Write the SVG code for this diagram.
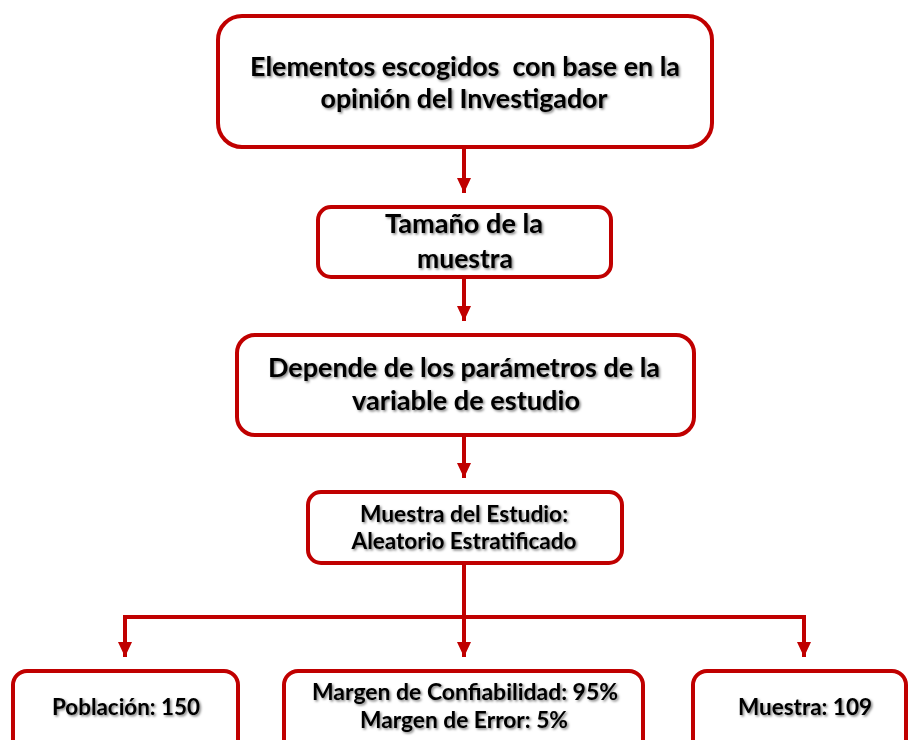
<svg xmlns="http://www.w3.org/2000/svg" width="908" height="740" viewBox="0 0 908 740">
<defs>
<style>
.box{fill:#fff;stroke:#C00000;stroke-width:4}
.t{font-family:Lato,"Open Sans","Liberation Sans",sans-serif;font-weight:bold;fill:#000;text-anchor:middle;filter:url(#sh)}
.l{font-size:26px}
.s{font-size:22px}
.c{fill:none;stroke:#C00000;stroke-width:4}
</style>
<filter id="sh" x="-10%" y="-30%" width="120%" height="160%">
<feDropShadow dx="1.5" dy="1.5" stdDeviation="1.2" flood-color="#000" flood-opacity="0.5"/>
</filter>
<marker id="ah" markerUnits="userSpaceOnUse" markerWidth="16" markerHeight="14" refX="15" refY="7" orient="auto">
<path d="M0,0 L15,7 L0,14 Z" fill="#C00000"/>
</marker>
</defs>
<rect width="908" height="740" fill="#fff"/>
<g id="connectors">
<path class="c" d="M464,149 V193" marker-end="url(#ah)"/>
<path class="c" d="M464,279 V321" marker-end="url(#ah)"/>
<path class="c" d="M464,437 V478" marker-end="url(#ah)"/>
<path class="c" d="M464,565 V617"/>
<path class="c" d="M123,617 H806"/>
<path class="c" d="M125,615 V657" marker-end="url(#ah)"/>
<path class="c" d="M464,617 V657" marker-end="url(#ah)"/>
<path class="c" d="M804,615 V657" marker-end="url(#ah)"/>
</g>
<g id="n1">
<rect class="box" x="218" y="16" width="494" height="131" rx="24"/>
<text class="t l" x="465" y="76" textLength="430" lengthAdjust="spacingAndGlyphs" xml:space="preserve">Elementos escogidos  con base en la</text>
<text class="t l" x="464" y="108" textLength="287" lengthAdjust="spacingAndGlyphs">opinión del Investigador</text>
</g>
<g id="n2">
<rect class="box" x="318" y="207" width="293" height="70" rx="13"/>
<text class="t l" x="464" y="233" textLength="158" lengthAdjust="spacingAndGlyphs">Tamaño de la</text>
<text class="t l" x="465" y="268" textLength="96" lengthAdjust="spacingAndGlyphs">muestra</text>
</g>
<g id="n3">
<rect class="box" x="237" y="335" width="457" height="100" rx="18"/>
<text class="t l" x="464" y="377" textLength="392" lengthAdjust="spacingAndGlyphs">Depende de los parámetros de la</text>
<text class="t l" x="466" y="410" textLength="228" lengthAdjust="spacingAndGlyphs">variable de estudio</text>
</g>
<g id="n4">
<rect class="box" x="308" y="492" width="314" height="71" rx="13"/>
<text class="t s" x="464" y="522" textLength="208" lengthAdjust="spacingAndGlyphs">Muestra del Estudio:</text>
<text class="t s" x="464" y="549" textLength="225" lengthAdjust="spacingAndGlyphs">Aleatorio Estratificado</text>
</g>
<g id="n5">
<rect class="box" x="13" y="671" width="225" height="90" rx="14"/>
<text class="t s" x="126" y="715" textLength="148" lengthAdjust="spacingAndGlyphs">Población: 150</text>
</g>
<g id="n6">
<rect class="box" x="284" y="671" width="359" height="90" rx="14"/>
<text class="t s" x="465" y="700" textLength="306" lengthAdjust="spacingAndGlyphs">Margen de Confiabilidad: 95%</text>
<text class="t s" x="464" y="728" textLength="208" lengthAdjust="spacingAndGlyphs">Margen de Error: 5%</text>
</g>
<g id="n7">
<rect class="box" x="693" y="671" width="213" height="90" rx="14"/>
<text class="t s" x="805" y="715" textLength="134" lengthAdjust="spacingAndGlyphs">Muestra: 109</text>
</g>
</svg>
